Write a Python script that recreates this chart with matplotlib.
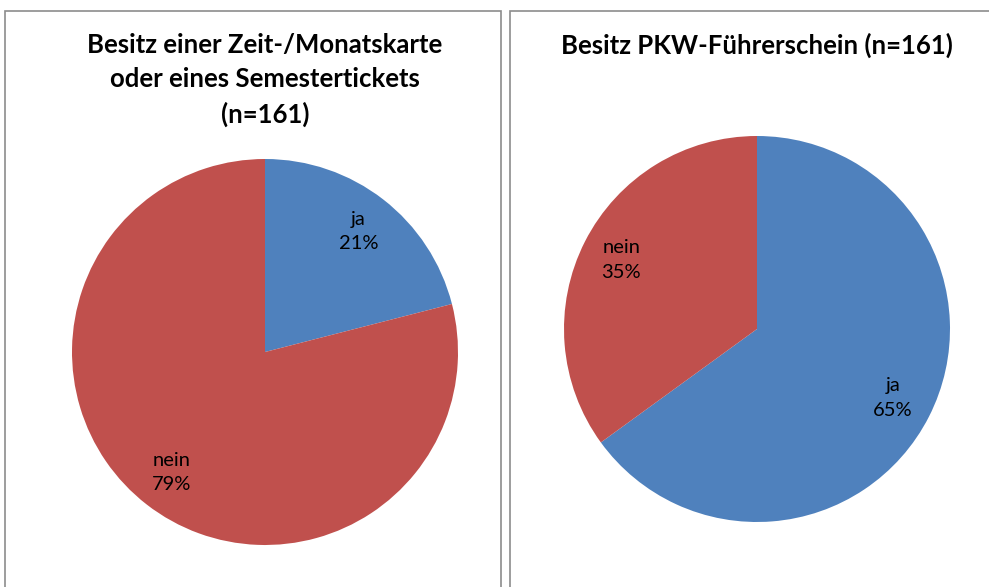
import matplotlib
matplotlib.use("Agg")
import matplotlib.pyplot as plt
from matplotlib.patches import Rectangle

plt.rcParams['font.family'] = ['Lato', 'DejaVu Sans']

# -------------------------------------------------
# Data
# -------------------------------------------------
categories = ["ja", "nein"]
ticket_values = [21, 79]
license_values = [65, 35]
titles = ["Besitz einer Zeit-/Monatskarte\noder eines Semestertickets\n(n=161)",
          "Besitz PKW-Führerschein (n=161)"]

colors = ["#4F81BD", "#C0504D"]

W, H = 989, 587
fig = plt.figure(figsize=(W / 100, H / 100), dpi=100)


def px_axes(x0, y0, x1, y1):
    # pixel box (top-left origin) -> figure axes
    return fig.add_axes([x0 / W, 1 - y1 / H, (x1 - x0) / W, (y1 - y0) / H])


# panel borders
for (x0, x1) in [(5, 501), (510, 1000)]:
    fig.patches.append(Rectangle((x0 / W, -0.05), (x1 - x0) / W, 1.05 - 11 / H,
                                 transform=fig.transFigure, fill=False,
                                 edgecolor="#8c8c8c", linewidth=1.2))


def draw_pie(ax, values):
    wedges, texts = ax.pie(values, labels=[f"{c}\n{v}%" for c, v in zip(categories, values)],
                           colors=colors, startangle=90, counterclock=False,
                           labeldistance=0.79, textprops=dict(fontsize=14.5))
    for t in texts:
        t.set_ha("center")
        t.set_va("center")
        t.set_multialignment("center")
        t.set_linespacing(1.55)
    ax.set_xlim(-1, 1)
    ax.set_ylim(-1, 1)


ax1 = px_axes(72, 159, 458, 545)
draw_pie(ax1, ticket_values)
ax2 = px_axes(564, 136, 950, 522)
draw_pie(ax2, license_values)

# titles
fig.text(265 / W, 1 - 33 / H, titles[0], ha="center", va="top", fontsize=18.5,
         fontweight="bold", linespacing=1.5)
fig.text(757 / W, 1 - 33 / H, titles[1], ha="center", va="top", fontsize=18.5,
         fontweight="bold")

fig.savefig("out.png", dpi=100)
